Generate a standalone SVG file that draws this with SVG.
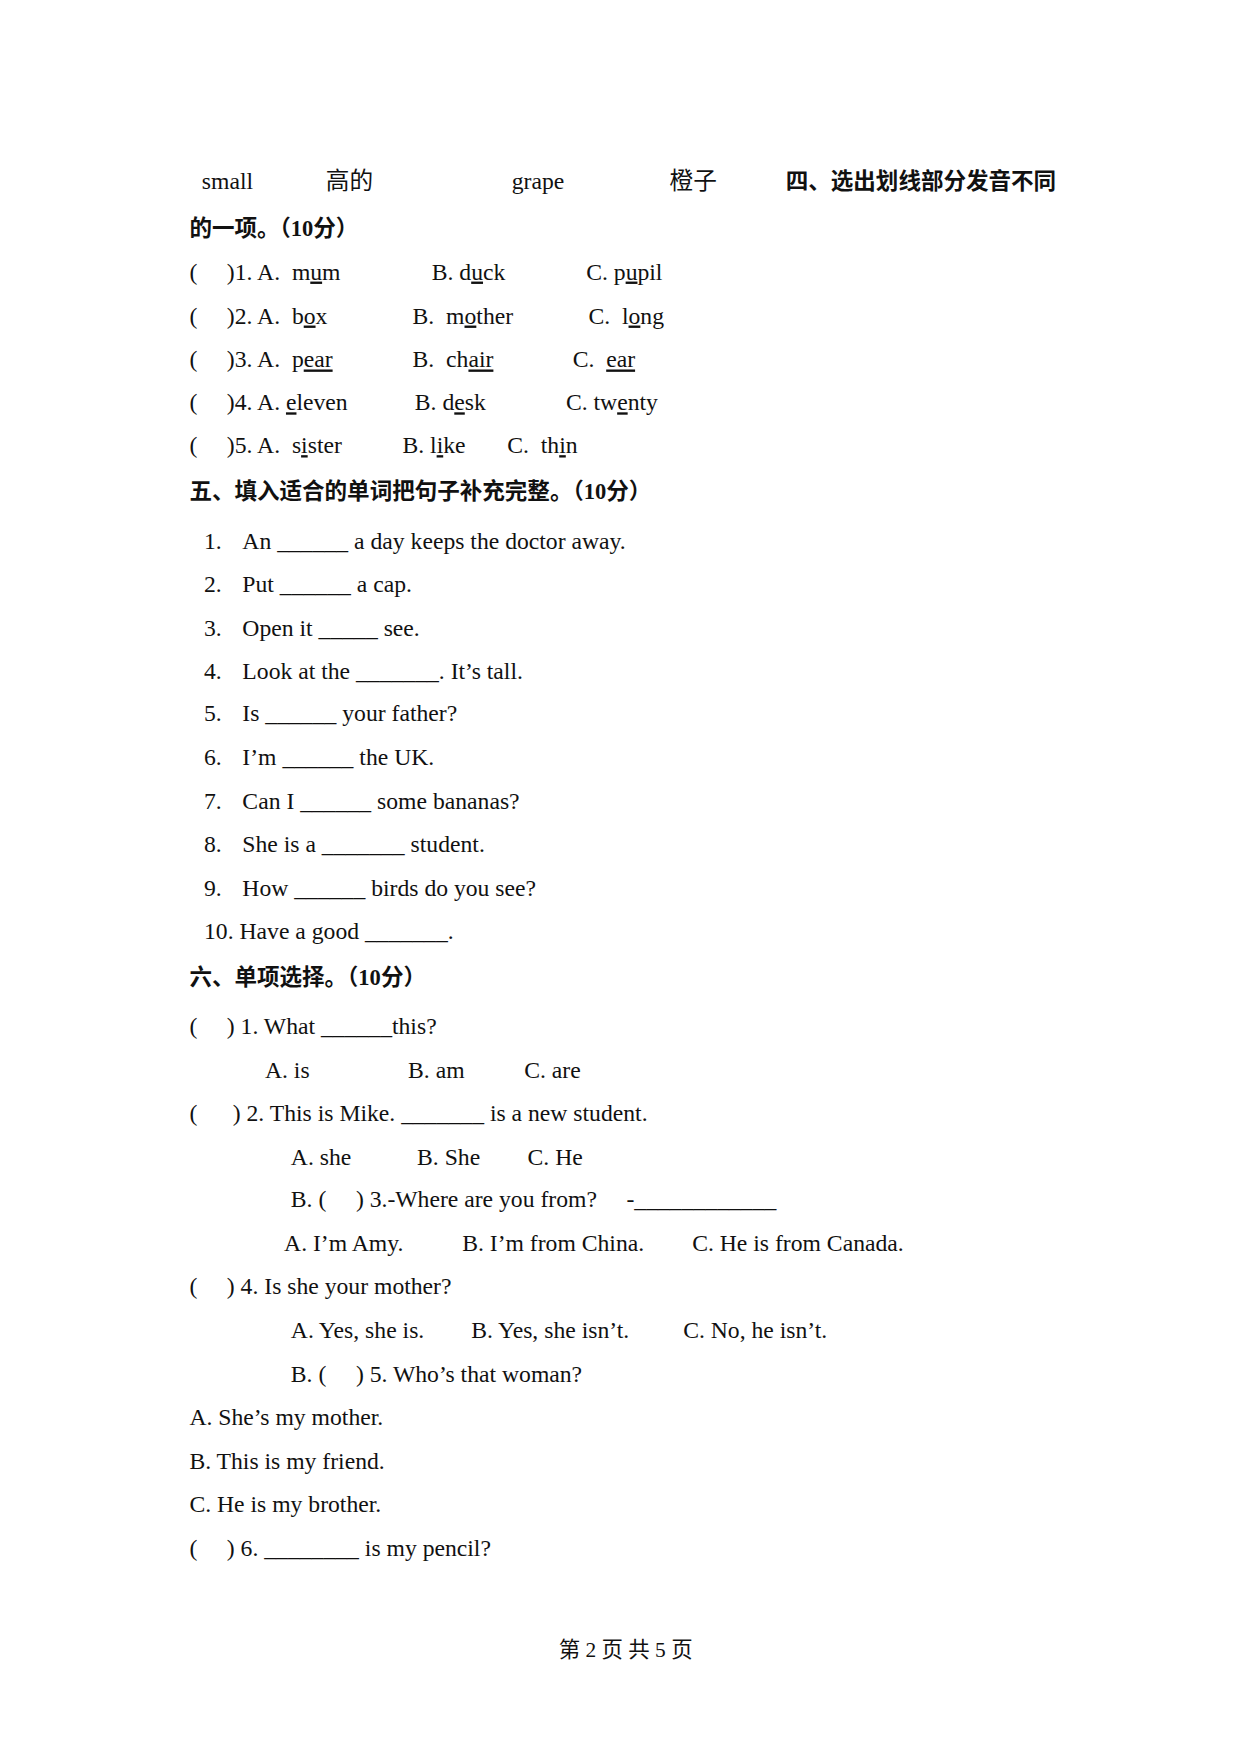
<svg xmlns="http://www.w3.org/2000/svg" width="1240" height="1754" viewBox="0 0 1240 1754">
<style>
text{font-family:"Liberation Serif","Noto Sans CJK SC",serif;font-size:21px;fill:#111;white-space:pre}
.h{font-weight:bold;font-size:20px}
.u{text-decoration:underline}
.f{font-size:19px}
</style>
<rect width="1240" height="1754" fill="#fff"/>
<g transform="scale(1.1273)">
<g id="vocab">
<text x="179" y="168">small</text>
<text x="289" y="168">高的</text>
<text x="454" y="168">grape</text>
<text x="594" y="168">橙子</text>
<text x="697" y="168" class="h">四、选出划线部分发音不同</text>
<text x="168" y="209" class="h">的一项。（10分）</text>
</g>
<g id="sec4">
<text x="168" y="248">(     )1. A.  m<tspan class="u">u</tspan>m</text>
<text x="383" y="248">B. d<tspan class="u">u</tspan>ck</text>
<text x="520" y="248">C. p<tspan class="u">u</tspan>pil</text>
<text x="168" y="287">(     )2. A.  b<tspan class="u">o</tspan>x</text>
<text x="366" y="287">B.  m<tspan class="u">o</tspan>ther</text>
<text x="522" y="287">C.  l<tspan class="u">o</tspan>ng</text>
<text x="168" y="326">(     )3. A.  p<tspan class="u">ear</tspan></text>
<text x="366" y="326">B.  ch<tspan class="u">air</tspan></text>
<text x="508" y="326">C.  <tspan class="u">ear</tspan></text>
<text x="168" y="364">(     )4. A. <tspan class="u">e</tspan>leven</text>
<text x="368" y="364">B. d<tspan class="u">e</tspan>sk</text>
<text x="502" y="364">C. tw<tspan class="u">e</tspan>nty</text>
<text x="168" y="402">(     )5. A.  s<tspan class="u">i</tspan>ster</text>
<text x="357" y="402">B. l<tspan class="u">i</tspan>ke</text>
<text x="450" y="402">C.  th<tspan class="u">i</tspan>n</text>
</g>
<g id="sec5">
<text x="168" y="443" class="h">五、填入适合的单词把句子补充完整。（10分）</text>
<text x="181" y="487">1.</text><text x="215" y="487">An ______ a day keeps the doctor away.</text>
<text x="181" y="525">2.</text><text x="215" y="525">Put ______ a cap.</text>
<text x="181" y="564">3.</text><text x="215" y="564">Open it _____ see.</text>
<text x="181" y="602">4.</text><text x="215" y="602">Look at the _______. It’s tall.</text>
<text x="181" y="640">5.</text><text x="215" y="640">Is ______ your father?</text>
<text x="181" y="679">6.</text><text x="215" y="679">I’m ______ the UK.</text>
<text x="181" y="718">7.</text><text x="215" y="718">Can I ______ some bananas?</text>
<text x="181" y="756">8.</text><text x="215" y="756">She is a _______ student.</text>
<text x="181" y="795">9.</text><text x="215" y="795">How ______ birds do you see?</text>
<text x="181" y="833">10. Have a good _______.</text>
</g>
<g id="sec6">
<text x="168" y="874" class="h">六、单项选择。（10分）</text>
<text x="168" y="917">(     ) 1. What ______this?</text>
<text x="235" y="956">A. is</text><text x="362" y="956">B. am</text><text x="465" y="956">C. are</text>
<text x="168" y="994">(      ) 2. This is Mike. _______ is a new student.</text>
<text x="258" y="1033">A. she</text><text x="370" y="1033">B. She</text><text x="468" y="1033">C. He</text>
<text x="258" y="1071">B. (     ) 3.-Where are you from?     -____________</text>
<text x="252" y="1110">A. I’m Amy.</text><text x="410" y="1110">B. I’m from China.</text><text x="614" y="1110">C. He is from Canada.</text>
<text x="168" y="1148">(     ) 4. Is she your mother?</text>
<text x="258" y="1187">A. Yes, she is.</text><text x="418" y="1187">B. Yes, she isn’t.</text><text x="606" y="1187">C. No, he isn’t.</text>
<text x="258" y="1226">B. (     ) 5. Who’s that woman?</text>
<text x="168" y="1264">A. She’s my mother.</text>
<text x="168" y="1303">B. This is my friend.</text>
<text x="168" y="1341">C. He is my brother.</text>
<text x="168" y="1380">(     ) 6. ________ is my pencil?</text>
</g>
<g id="footer">
<text x="555" y="1470" text-anchor="middle" class="f">第 2 页 共 5 页</text>
</g>
</g>
</svg>
